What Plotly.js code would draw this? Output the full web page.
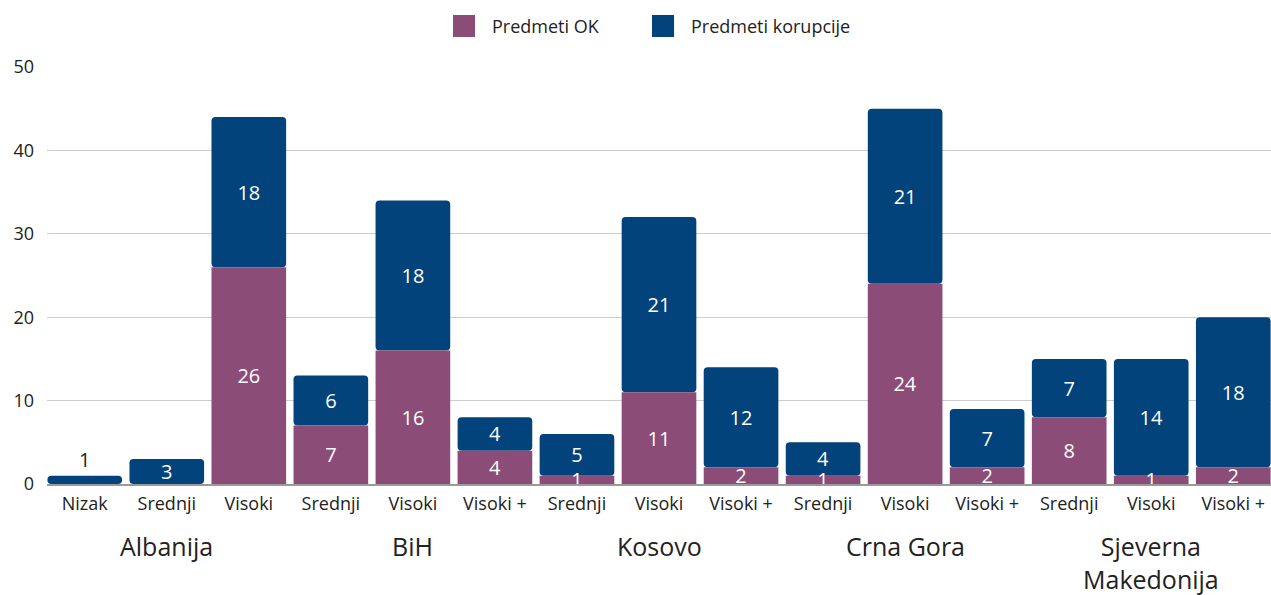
<!DOCTYPE html>
<html>
<head>
<meta charset="utf-8">
<script src="https://cdn.plot.ly/plotly-3.0.1.min.js"></script>
<style>html,body{margin:0;padding:0;background:#fff;}#chart{width:1271px;height:595px;}</style>
</head>
<body>
<div id="chart"></div>
<script>
const countries = ["Albanija","Albanija","Albanija","BiH","BiH","BiH","Kosovo","Kosovo","Kosovo","Crna Gora","Crna Gora","Crna Gora","Sjeverna<br>Makedonija","Sjeverna<br>Makedonija","Sjeverna<br>Makedonija"];
const tiers = ["Nizak","Srednji","Visoki","Srednji","Visoki","Visoki +","Srednji","Visoki","Visoki +","Srednji","Visoki","Visoki +","Srednji","Visoki","Visoki +"];
const predmetiOK = [0,0,26,7,16,4,1,11,2,1,24,2,8,1,2];
const predmetiKorupcije = [1,3,18,6,18,4,5,21,12,4,21,7,7,14,18];
const seriesNames = ["Predmeti OK", "Predmeti korupcije"];

const idx = tiers.map((_, i) => i);
const purple = "#8b4c77";
const blue = "#02437b";
const font = "Open Sans, Noto Sans, sans-serif";
const labelFont = {color: "#ffffff", size: 20, family: font};

// bars
const korTrace = {
  type: "bar", name: seriesNames[1], x: idx, y: predmetiKorupcije, base: predmetiOK,
  marker: {color: blue, cornerradius: 4}, showlegend: false, hoverinfo: "skip"
};
const okTrace = {
  type: "bar", name: seriesNames[0], x: idx, y: predmetiOK,
  marker: {color: purple, cornerradius: 0},
  text: predmetiOK.map(v => v ? String(v) : ""),
  textposition: "inside", insidetextanchor: "middle", textangle: 0,
  textfont: labelFont, constraintext: "none", cliponaxis: true,
  showlegend: false, hoverinfo: "skip"
};
// value labels of the top series (transparent copy of the same bars)
const korLabels = {
  type: "bar", name: seriesNames[1] + " labels", x: idx, y: predmetiKorupcije, base: predmetiOK,
  marker: {color: "rgba(0,0,0,0)", cornerradius: 0},
  text: predmetiKorupcije.map(v => v ? String(v) : ""),
  textposition: predmetiKorupcije.map((v, i) => v <= 1 && predmetiOK[i] === 0 ? "outside" : "inside"),
  insidetextanchor: "middle", textangle: 0,
  textfont: labelFont,
  outsidetextfont: {color: "#222222", size: 20, family: font},
  constraintext: "none", cliponaxis: false, showlegend: false, hoverinfo: "skip"
};

// group labels at group centres
const groups = [];
countries.forEach((c, i) => {
  let g = groups.find(g => g.name === c);
  if (!g) { g = {name: c, idx: []}; groups.push(g); }
  g.idx.push(i);
});
const annotations = groups.map(g => ({
  x: g.idx.reduce((a, b) => a + b, 0) / g.idx.length, xref: "x",
  y: -0.104, yref: "paper", yanchor: "top", xanchor: "center",
  text: g.name, showarrow: false,
  font: {family: font, size: 25, color: "#222222"}
}));

// legend (keys + labels above the plot)
const legendColors = [purple, blue];
const legendX = [0.3317, 0.4943];
const shapes = [];
seriesNames.forEach((n, i) => {
  shapes.push({type: "rect", xref: "paper", yref: "paper",
    x0: legendX[i], x1: legendX[i] + 0.018, y0: 1.0719, y1: 1.1247,
    fillcolor: legendColors[i], line: {width: 0}});
  annotations.push({xref: "paper", yref: "paper", x: legendX[i] + 0.030, y: 1.0983,
    xanchor: "left", yanchor: "middle", showarrow: false, text: n,
    font: {family: font, size: 18, color: "#222222"}});
});

const layout = {
  width: 1271, height: 595,
  margin: {l: 47, r: 0, t: 67, b: 111},
  paper_bgcolor: "#fff", plot_bgcolor: "#fff",
  barmode: "overlay", bargap: 0.09,
  font: {family: font, color: "#222222"},
  showlegend: false,
  xaxis: {
    range: [-0.46, 14.46], tickmode: "array", tickvals: idx, ticktext: tiers,
    showgrid: false, zeroline: false, showline: true, linecolor: "#9a9a9a", linewidth: 1.5,
    ticks: "", ticklabelstandoff: 3,
    tickfont: {size: 18, family: font, color: "#222222"}, fixedrange: true
  },
  yaxis: {
    range: [0, 50], tickvals: [0,10,20,30,40,50], showgrid: true, gridcolor: "#cccccc", gridwidth: 1,
    zeroline: false, showline: false, ticks: "", ticklabelstandoff: 12,
    tickfont: {size: 18, family: font, color: "#222222"}, fixedrange: true
  },
  shapes: shapes,
  annotations: annotations
};

Plotly.newPlot("chart", [korTrace, okTrace, korLabels], layout, {displayModeBar: false, staticPlot: true});
</script>
</body>
</html>
